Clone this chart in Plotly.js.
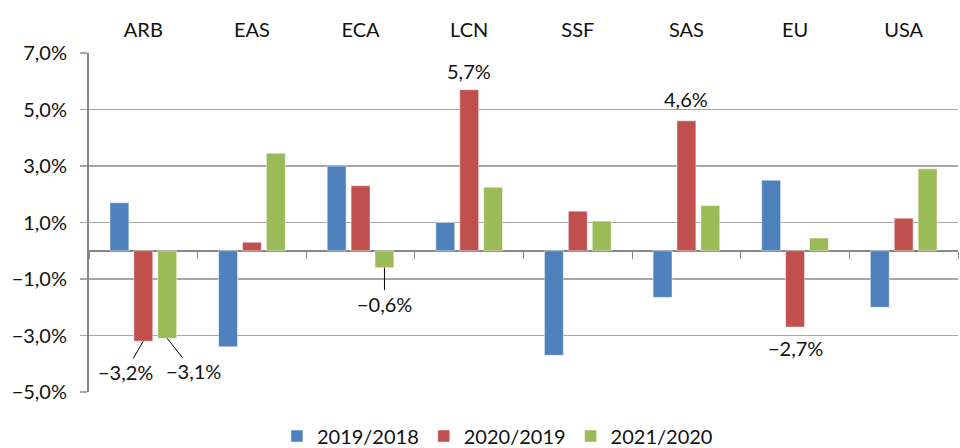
<!DOCTYPE html>
<html><head><meta charset="utf-8">
<script src="https://cdn.plot.ly/plotly-3.0.1.min.js"></script>
<style>html,body{margin:0;padding:0;background:#fff}#c{width:960px;height:448px}</style>
</head><body><div id="c"></div>
<script>
const categories = ['ARB','EAS','ECA','LCN','SSF','SAS','EU','USA'];
const s2019 = [1.7, -3.4, 3.0, 1.0, -3.7, -1.65, 2.5, -2.0];
const s2020 = [-3.2, 0.3, 2.3, 5.7, 1.4, 4.6, -2.7, 1.15];
const s2021 = [-3.1, 3.45, -0.6, 2.25, 1.05, 1.6, 0.45, 2.9];
const seriesNames = ['2019/2018','2020/2019','2021/2020'];
const colors = ['#4F81BD','#C0504D','#9BBB59'];
const yTickVals = [-5,-3,-1,1,3,5,7];
const yTickText = ['\u22125,0%','\u22123,0%','\u22121,0%','1,0%','3,0%','5,0%','7,0%'];

function fmt(v){ return (v<0?'\u2212':'') + Math.abs(v).toFixed(1).replace('.',',') + '%'; }

const series = [s2019, s2020, s2021];
const traces = series.map((vals,i)=>({
  type:'bar', x:categories, y:vals, name:seriesNames[i],
  marker:{color:colors[i], line:{color:'rgba(255,255,255,0.45)', width:1}},
  hoverinfo:'skip'
}));
// helper trace for boundary ticks on zero line
traces.push({type:'bar', x:categories, y:categories.map(()=>null), xaxis:'x2', showlegend:false, hoverinfo:'skip'});

const slot = 0.22;
const font = {family:'Lato, "Open Sans", sans-serif', size:20, color:'#111'};
// annotations: [seriesIndex, categoryIndex, ax, ay, mode]
const labelSpecs = [
  [1,0,-18,31,'arrow'],
  [2,0,26,33,'arrow'],
  [2,2,0,36,'arrow'],
  [1,3,0,0,'above'],
  [1,5,0,0,'above'],
  [1,6,0,0,'below']
];
const annotations = labelSpecs.map(([si,ci,ax,ay,mode])=>{
  const v = series[si][ci];
  const a = {x: ci + (si-1)*slot, y: v, xref:'x', yref:'y', text: fmt(v), font: font};
  if(mode==='arrow'){
    Object.assign(a,{showarrow:true, arrowhead:0, arrowwidth:1, arrowcolor:'#000', ax:ax, ay:ay, standoff:0, startstandoff:0});
  } else if(mode==='above'){
    Object.assign(a,{showarrow:false, yanchor:'bottom', yshift: ci===5?8:5});
  } else {
    Object.assign(a,{showarrow:false, yanchor:'top', yshift:-7});
  }
  return a;
});

const layout = {
  width:960, height:448,
  margin:{l:89, r:2, t:53, b:56, autoexpand:false},
  paper_bgcolor:'#fff', plot_bgcolor:'#fff',
  font: font,
  barmode:'group', bargap:0.34, bargroupgap:0.21,
  showlegend:true,
  legend:{orientation:'h', x:0.47, xanchor:'center', y:-0.13, yanchor:'middle', font:{family:font.family, size:20, color:'#111'}, itemwidth:30, tracegroupgap:0},
  xaxis:{type:'category', side:'top', showgrid:false, showline:false, zeroline:false, ticks:'', tickfont:font, ticklabelstandoff:11, fixedrange:true, automargin:false},
  xaxis2:{type:'category', overlaying:'x', matches:'x', anchor:'free', position:5/12, side:'bottom', showticklabels:false, ticks:'outside', tickson:'boundaries', ticklen:7, tickwidth:1, tickcolor:'#868686', showgrid:false, showline:false, zeroline:false},
  yaxis:{range:[-5,7], tickvals:yTickVals, ticktext:yTickText, showgrid:true, gridcolor:'#A6A6A6', gridwidth:1.3,
    zeroline:true, zerolinecolor:'#868686', zerolinewidth:2.5, automargin:false,
    showline:true, linecolor:'#868686', linewidth:2, ticks:'outside', ticklen:7, tickcolor:'#A6A6A6', tickwidth:1.3,
    tickfont:font, ticklabelstandoff:9, fixedrange:true},
  annotations: annotations
};
Plotly.newPlot('c', traces, layout, {staticPlot:true, displayModeBar:false});
</script></body></html>
